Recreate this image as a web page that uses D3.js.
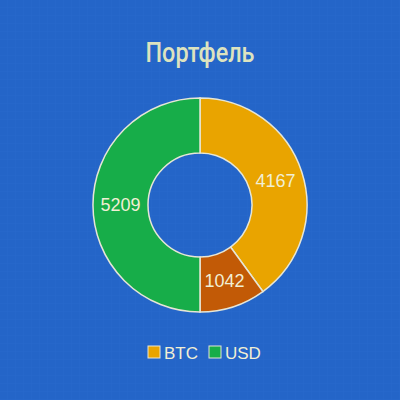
<!DOCTYPE html>
<html><head><meta charset="utf-8">
<script src="https://cdn.jsdelivr.net/npm/d3@7"></script>
<style>html,body{margin:0;padding:0;background:#2465c8;}svg{display:block;}</style>
</head><body>
<svg id="c" width="400" height="400"></svg>
<script>
const title = "Портфель";
const sliceLabels = ["BTC", "BTC2", "USD"];
const sliceValues = [4167, 1042, 5209];
const sliceColors = ["#e9a400", "#c25a06", "#17ad49"];
const legendNames = ["BTC", "USD"];
const legendColors = ["#e9a400", "#17ad49"];

const svg = d3.select("#c");
const W = 400, H = 400;
const defs = svg.append("defs");
const pat = defs.append("pattern").attr("id","grid").attr("width",8).attr("height",8).attr("patternUnits","userSpaceOnUse");
pat.append("rect").attr("width",8).attr("height",8).attr("fill","#2465c8");
pat.append("path").attr("d","M8 0V8M0 8H8").attr("stroke","#2869cc").attr("stroke-width",1).attr("fill","none");
svg.append("rect").attr("width",W).attr("height",H).attr("fill","url(#grid)");

svg.append("text").attr("x",200).attr("y",62).attr("text-anchor","middle")
  .attr("font-family","Roboto, sans-serif")
  .attr("font-weight","500").attr("font-size",27)
  .attr("textLength",109).attr("lengthAdjust","spacingAndGlyphs")
  .attr("fill","#dde3bf").text(title);

const cx = 200, cy = 205, rO = 107, rI = 52;
const pie = d3.pie().sort(null).value(d=>d);
const arcs = pie(sliceValues);
const arc = d3.arc().innerRadius(rI).outerRadius(rO);
const g = svg.append("g").attr("transform",`translate(${cx},${cy})`);
g.selectAll("path").data(arcs).join("path").attr("d",arc)
  .attr("fill",(d,i)=>sliceColors[i]).attr("stroke","#e6e6d6").attr("stroke-width",1.5);
g.selectAll("text").data(arcs).join("text")
  .attr("transform",d=>`translate(${arc.centroid(d)})`)
  .attr("text-anchor","middle").attr("dy","0.36em")
  .attr("font-family","'Liberation Sans', Arial, sans-serif").attr("font-size",18)
  .attr("fill","#f1efd4").text(d=>d.data);

const lg = svg.append("g");
const items = [{x:148},{x:209}];
legendNames.forEach((n,i)=>{
  const x = items[i].x;
  lg.append("rect").attr("x",x).attr("y",346).attr("width",12).attr("height",12)
    .attr("fill",legendColors[i]).attr("stroke","#e6e6d6").attr("stroke-width",1);
  lg.append("text").attr("x",x+16).attr("y",358.5)
    .attr("font-family","'Liberation Sans', Arial, sans-serif").attr("font-size",17)
    .attr("fill","#f1efd4").text(n);
});
</script>
</body></html>
